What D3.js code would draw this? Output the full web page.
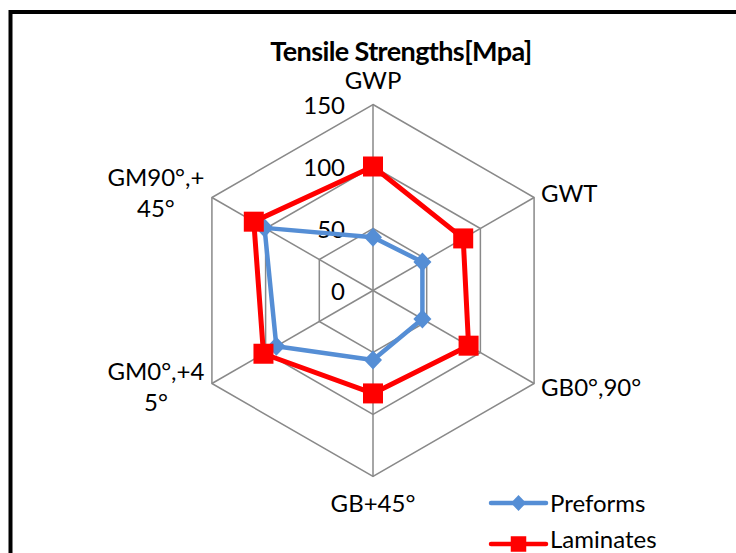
<!DOCTYPE html>
<html lang="en">
<head>
<meta charset="UTF-8">
<title>Tensile Strengths</title>
<script src="https://d3js.org/d3.v7.min.js"></script>
<style>
    body { margin: 0; background: #fff; }
    svg { display: block; font-family: Lato, "Liberation Sans", sans-serif; }
    .lbl { font-size: 24px; fill: #000; }
    .title { font-size: 27px; font-weight: bold; fill: #000; letter-spacing: -0.6px; }
    .grid { fill: none; stroke: #898989; stroke-width: 1.5px; }
</style>
</head>
<body>
<div id="chart"></div>
<script>
    // data
    const categories = ["GWP", "GWT", "GB0°,90°", "GB+45°", "GM0°,+45°", "GM90°,+45°"];
    const categoryLines = [["GWP"], ["GWT"], ["GB0°,90°"], ["GB+45°"], ["GM0°,+4", "5°"], ["GM90°,+", "45°"]];
    const preforms = [43, 46, 46, 56, 90, 101];
    const laminates = [100, 84, 89, 83, 102, 111];
    const ticks = [0, 50, 100, 150];

    const width = 736, height = 553;
    const cx = 373, cy = 290.5, R = 186;

    const svg = d3.select("#chart").append("svg")
        .attr("width", width)
        .attr("height", height);

    // outer frame (runs off the right and bottom)
    svg.append("rect")
        .attr("x", 10.5).attr("y", 12)
        .attr("width", 800).attr("height", 600)
        .attr("fill", "none").attr("stroke", "#000").attr("stroke-width", 4);

    const r = d3.scaleLinear().domain([0, 150]).range([0, R]);
    const angle = d3.scalePoint().domain(categories).range([0, 2 * Math.PI * 5 / 6]);
    const px = (c, v) => cx + r(v) * Math.sin(angle(c));
    const py = (c, v) => cy - r(v) * Math.cos(angle(c));

    const g = svg.append("g");

    // rings
    ticks.filter(t => t > 0).forEach(t => {
        g.append("path")
            .attr("class", "grid")
            .attr("d", d3.line()(categories.map(c => [px(c, t), py(c, t)])) + "Z");
    });
    // spokes
    categories.forEach(c => {
        g.append("line")
            .attr("class", "grid")
            .attr("x1", cx).attr("y1", cy)
            .attr("x2", px(c, 150)).attr("y2", py(c, 150));
    });

    // tick labels
    g.selectAll(".tick")
        .data(ticks)
        .enter().append("text")
        .attr("class", "lbl")
        .attr("x", cx - 28)
        .attr("y", d => cy - r(d))
        .attr("text-anchor", "end")
        .attr("dominant-baseline", "central")
        .text(d => d);

    // category labels
    categories.forEach((c, i) => {
        const a = angle(c);
        const s = Math.sin(a), co = Math.cos(a);
        let x = px(c, 150), y = py(c, 150), anchor = "middle";
        if (Math.abs(s) < 0.01) {
            y += co > 0 ? -26 : 25;
        } else if (s > 0) {
            x += 7; anchor = "start";
            y += co > 0 ? -6 : 2.5;
        } else {
            x -= 56;
            y += co > 0 ? -6 : 2;
        }
        const lines = categoryLines[i];
        const t = g.append("text")
            .attr("class", "lbl")
            .attr("text-anchor", anchor)
            .attr("dominant-baseline", "central");
        lines.forEach((ln, j) => {
            t.append("tspan")
                .attr("x", x)
                .attr("y", y + (j - (lines.length - 1) / 2) * 31)
                .text(ln);
        });
    });

    const series = [
        { name: "Preforms", values: preforms, color: "#558ED5", width: 4.5, marker: "diamond" },
        { name: "Laminates", values: laminates, color: "#FF0000", width: 5, marker: "square" }
    ];

    const radial = d3.line()
        .x((d, i) => px(categories[i], d))
        .y((d, i) => py(categories[i], d))
        .curve(d3.curveLinearClosed);

    function marker(sel, type, size, color) {
        if (type === "square") {
            sel.append("rect")
                .attr("x", -size / 2).attr("y", -size / 2)
                .attr("width", size).attr("height", size)
                .attr("fill", color);
        } else {
            const h = size / 2;
            sel.append("path")
                .attr("d", `M0,${-h}L${h * 0.95},0L0,${h}L${-h * 0.95},0Z`)
                .attr("fill", color);
        }
    }

    series.forEach(s => {
        g.append("path")
            .datum(s.values)
            .attr("d", radial)
            .attr("fill", "none")
            .attr("stroke", s.color)
            .attr("stroke-width", s.width)
            .attr("stroke-linejoin", "round");
        s.values.forEach((v, i) => {
            const m = g.append("g")
                .attr("transform", `translate(${px(categories[i], v)},${py(categories[i], v)})`);
            marker(m, s.marker, s.marker === "square" ? 20 : 19, s.color);
        });
    });

    // legend
    const legend = svg.append("g");
    series.forEach((s, i) => {
        const ly = 503 + i * 41;
        legend.append("line")
            .attr("x1", 491).attr("x2", 546)
            .attr("y1", ly).attr("y2", ly)
            .attr("stroke", s.color).attr("stroke-width", 4.5)
            .attr("stroke-linecap", "round");
        const m = legend.append("g").attr("transform", `translate(518.5,${ly})`);
        marker(m, s.marker, s.marker === "square" ? 15.5 : 16, s.color);
        legend.append("text")
            .attr("class", "lbl")
            .attr("x", 550).attr("y", 512 + i * 35.5)
            .text(s.name);
    });

    // title
    svg.append("text")
        .attr("class", "title")
        .attr("x", 401).attr("y", 50)
        .attr("text-anchor", "middle")
        .attr("dominant-baseline", "central")
        .text("Tensile Strengths[Mpa]");
</script>
</body>
</html>
